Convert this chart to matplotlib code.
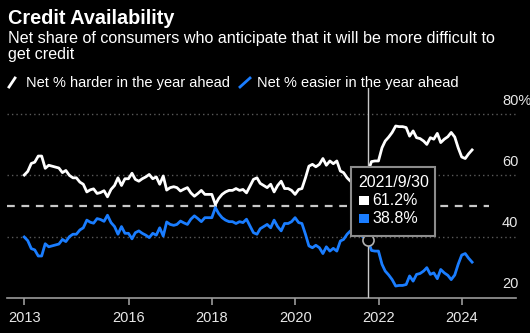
import numpy as np
import pandas as pd
import matplotlib
matplotlib.use("Agg")
import matplotlib.pyplot as plt
import matplotlib.transforms as mtransforms
from matplotlib.lines import Line2D
from matplotlib.patches import Rectangle

W, H = 530, 333

# monthly survey readings, June 2013 - March 2024
dates = pd.date_range("2013-06-30", periods=130, freq="ME")
harder = [
    60.1, 61.3, 63.9, 64.3, 66.3, 66.3, 62.3, 63.3, 63.0, 62.7,
    62.4, 60.9, 61.6, 60.0, 59.2, 59.2, 57.8, 57.1, 54.6, 55.3,
    55.6, 54.1, 54.4, 55.0, 53.0, 55.4, 56.7, 59.2, 56.7, 58.9,
    58.9, 60.7, 58.7, 58.1, 58.9, 59.5, 60.3, 58.9, 59.5, 57.1,
    59.8, 55.2, 56.0, 56.3, 56.0, 54.9, 55.5, 56.0, 54.3, 53.2,
    54.1, 55.1, 53.8, 53.8, 53.8, 50.5, 52.4, 53.8, 54.6, 55.1,
    55.1, 55.7, 55.1, 55.4, 54.3, 56.5, 58.7, 59.2, 57.4, 56.7,
    56.0, 57.1, 54.6, 56.7, 58.1, 55.7, 55.7, 55.1, 53.8, 55.4,
    55.7, 59.2, 63.0, 63.6, 62.8, 63.6, 65.5, 63.3, 64.7, 63.8,
    64.7, 61.4, 60.9, 59.2, 58.1, 57.5, 58.5, 59.5, 60.5, 61.2,
    64.5, 64.7, 64.7, 69.0, 71.2, 72.5, 74.0, 76.1, 75.9, 75.9,
    75.6, 72.8, 74.5, 72.3, 72.0, 71.2, 70.1, 72.3, 71.8, 73.7,
    70.7, 71.8, 72.6, 74.0, 72.5, 69.0, 66.0, 65.5, 67.0, 68.3,
]
easier = [
    39.9, 38.7, 36.1, 35.7, 33.7, 33.7, 37.7, 36.7, 37.0, 37.3,
    37.6, 39.1, 38.4, 40.0, 40.8, 40.8, 42.2, 42.9, 45.4, 44.7,
    44.4, 45.9, 45.6, 45.0, 47.0, 44.6, 43.3, 40.8, 43.3, 41.1,
    41.1, 39.3, 41.3, 41.9, 41.1, 40.5, 39.7, 41.1, 40.5, 42.9,
    40.2, 44.8, 44.0, 43.7, 44.0, 45.1, 44.5, 44.0, 45.7, 46.8,
    45.9, 44.9, 46.2, 46.2, 46.2, 49.5, 47.6, 46.2, 45.4, 44.9,
    44.9, 44.3, 44.9, 44.6, 45.7, 43.5, 41.3, 40.8, 42.6, 43.3,
    44.0, 42.9, 45.4, 43.3, 41.9, 44.3, 44.3, 44.9, 46.2, 44.6,
    44.3, 40.8, 37.0, 36.4, 37.2, 36.4, 34.5, 36.7, 35.3, 36.2,
    35.3, 38.6, 39.1, 40.8, 41.9, 42.5, 41.5, 40.5, 39.5, 38.8,
    35.5, 35.3, 35.3, 31.0, 28.8, 27.5, 26.0, 23.9, 24.1, 24.1,
    24.4, 27.2, 25.5, 27.7, 28.0, 28.8, 29.9, 27.7, 28.2, 26.3,
    29.3, 28.2, 27.4, 26.0, 27.5, 31.0, 34.0, 34.5, 33.0, 31.7,
]

y_ticks = [20, 40, 60, 80]
y_tick_labels = ["20", "40", "60", "80%"]
x_tick_dates = pd.to_datetime(["2013-06-30", "2016-01-01", "2018-01-01",
                               "2020-01-01", "2022-01-01", "2024-01-01"])
x_tick_labels = ["2013", "2016", "2018", "2020", "2022", "2024"]
hover_idx = 99  # 2021/9/30

WHITE = "#ffffff"
BLUE = "#1a7dff"
GRID = "#5a5a5a"
TXT = "#e8e8e8"

plt.rcParams["font.family"] = ["Liberation Sans", "DejaVu Sans"]

# top-down pixel coordinates on the 530x333 canvas
PIX = mtransforms.Affine2D().scale(1, -1).translate(0, H)

fig = plt.figure(figsize=(W / 100, H / 100), dpi=100, facecolor="black")
ax = fig.add_axes([7 / W, 1 - 298 / H, (516 - 7) / W, (298 - 88) / H])
ax.set_facecolor("black")

ax.plot(dates, harder, color=WHITE, linewidth=2.0, solid_joinstyle="round", zorder=3)
ax.plot(dates, easier, color=BLUE, linewidth=2.0, solid_joinstyle="round", zorder=3)

ax.set_xlim(pd.Timestamp("2013-01-30"), pd.Timestamp("2025-04-20"))
ax.set_ylim(20, 88.5)

for v in y_ticks[1:]:
    ax.axhline(v, color=GRID, linewidth=1, linestyle=(0, (1, 2.2)), zorder=1)
ax.hlines(50, pd.Timestamp("2013-01-30"), pd.Timestamp("2024-08-25"),
          color="#c8c8c8", linewidth=1.6, linestyle=(0, (3.5, 3)), zorder=2)

# right-hand value labels sit above their gridlines
lab_tr = mtransforms.offset_copy(ax.get_yaxis_transform(), fig=fig, x=0, y=13.5, units="dots")
for v, lab in zip(y_ticks, y_tick_labels):
    ax.text(0.9725, v, lab, transform=lab_tr, color=TXT, fontsize=10.5,
            ha="left", va="center")
ax.set_yticks([])

for s in ["top", "right", "left"]:
    ax.spines[s].set_visible(False)
ax.spines["bottom"].set_color("#9a9a9a")
ax.spines["bottom"].set_linewidth(1.2)
ax.set_xticks(x_tick_dates)
ax.set_xticklabels(x_tick_labels)
ax.tick_params(axis="x", colors="#9a9a9a", length=5, width=1.2, pad=4,
               labelcolor=TXT, labelsize=10.5)

# hover crosshair and marker
hx = dates[hover_idx]
ax.axvline(hx, color="#c8c8c8", linewidth=1, zorder=4)
ax.plot([hx], [easier[hover_idx]], marker="o", markersize=8, markerfacecolor="black",
        markeredgecolor="#b0b0b0", markeredgewidth=1.2, zorder=6)

# tooltip box (rectangles given by their top-left corner in pixel space)
fig.add_artist(Rectangle((351, 167), 84, 69, transform=PIX, facecolor="black",
                         edgecolor="#8c8c8c", linewidth=1.5, zorder=10))
fig.text(358, 187, f"{hx.year}/{hx.month}/{hx.day}", transform=PIX, color=WHITE,
         fontsize=11.5, ha="left", va="baseline", zorder=11)
fig.add_artist(Rectangle((359, 195.5), 9.5, 9.5, transform=PIX, facecolor=WHITE,
                         edgecolor="none", zorder=11))
fig.text(372, 205, f"{harder[hover_idx]:.1f}%", transform=PIX, color=WHITE,
         fontsize=11.5, ha="left", va="baseline", zorder=11)
fig.add_artist(Rectangle((359, 213.5), 9.5, 9.5, transform=PIX, facecolor=BLUE,
                         edgecolor="none", zorder=11))
fig.text(372, 223, f"{easier[hover_idx]:.1f}%", transform=PIX, color=WHITE,
         fontsize=11.5, ha="left", va="baseline", zorder=11)

# titles
fig.text(8, 24, "Credit Availability", transform=PIX, color=WHITE, fontsize=14.3,
         fontweight="bold", ha="left", va="baseline")
fig.text(8, 43, "Net share of consumers who anticipate that it will be more difficult to",
         transform=PIX, color=WHITE, fontsize=11.6, ha="left", va="baseline")
fig.text(8, 59, "get credit", transform=PIX, color=WHITE, fontsize=11.6,
         ha="left", va="baseline")

# legend with slanted swatches
fig.add_artist(Line2D([9, 15], [87, 78], transform=PIX, color=WHITE, linewidth=2))
fig.text(26, 87, "Net % harder in the year ahead", transform=PIX, color=WHITE,
         fontsize=10.5, ha="left", va="baseline")
fig.add_artist(Line2D([240, 250], [87, 78], transform=PIX, color=BLUE, linewidth=2))
fig.text(257, 87, "Net % easier in the year ahead", transform=PIX, color=WHITE,
         fontsize=10.5, ha="left", va="baseline")

fig.savefig("out.png", dpi=100, facecolor="black")
